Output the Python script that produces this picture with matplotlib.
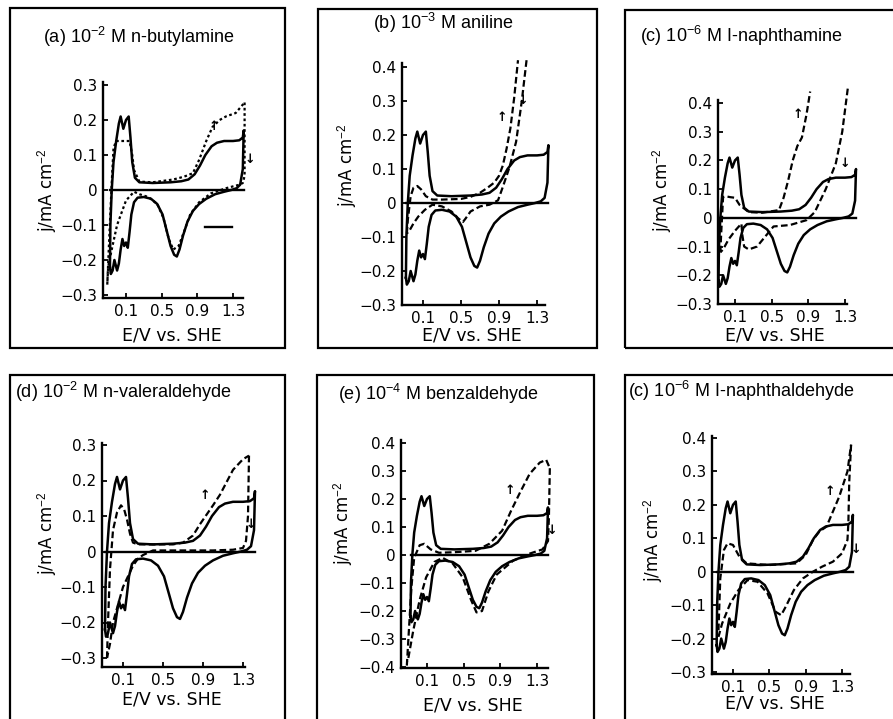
import matplotlib
matplotlib.use("Agg")
import matplotlib.pyplot as plt
from matplotlib.patches import Rectangle

plt.rcParams['font.family'] = ['Liberation Sans', 'DejaVu Sans']
plt.rcParams['mathtext.fontset'] = 'custom'
plt.rcParams['mathtext.rm'] = 'Liberation Sans'
plt.rcParams['mathtext.it'] = 'Liberation Sans:italic'
plt.rcParams['mathtext.bf'] = 'Liberation Sans:bold'

W, H = 893, 719

# blank Pt electrode in acid (solid line), one full sweep
blank_E = [-0.08, -0.075, -0.06, -0.04, -0.01, 0.02, 0.04, 0.07, 0.1, 0.13, 0.15, 0.17, 0.2, 0.25,
           0.4, 0.6, 0.72, 0.8, 0.87, 0.93, 0.99, 1.06, 1.12, 1.2, 1.3, 1.37, 1.41, 1.42,
           1.41, 1.38, 1.34, 1.28, 1.2, 1.1, 1.0, 0.92, 0.85, 0.79, 0.74, 0.7, 0.67, 0.64,
           0.6, 0.56, 0.51, 0.45, 0.38, 0.3, 0.23, 0.19, 0.16, 0.14, 0.12, 0.1, 0.08, 0.06,
           0.04, 0.02, 0.0, -0.03, -0.05, -0.07, -0.08]
blank_j = [-0.22, -0.1, 0.0, 0.08, 0.14, 0.19, 0.21, 0.175, 0.2, 0.21, 0.15, 0.08, 0.035, 0.022,
           0.02, 0.022, 0.025, 0.03, 0.045, 0.07, 0.1, 0.125, 0.135, 0.14, 0.14, 0.142, 0.15, 0.17,
           0.06, 0.015, 0.005, 0.0, -0.005, -0.012, -0.025, -0.04, -0.06, -0.09, -0.13, -0.17, -0.19, -0.185,
           -0.16, -0.12, -0.07, -0.04, -0.025, -0.02, -0.022, -0.035, -0.07, -0.12, -0.165, -0.15, -0.16, -0.14,
           -0.17, -0.21, -0.23, -0.2, -0.23, -0.24, -0.22]

zero_E = [-0.08, 1.42]
zero_j = [0.0, 0.0]

# (a) n-butylamine
a_up_E = [-0.11, -0.09, -0.06, -0.04, -0.01, 0.05, 0.14, 0.17, 0.19, 0.25, 0.4, 0.63, 0.75, 0.85,
          0.92, 1.0, 1.07, 1.15, 1.22, 1.33, 1.43]
a_up_j = [-0.27, -0.15, 0.02, 0.12, 0.14, 0.14, 0.14, 0.1, 0.057, 0.024, 0.022, 0.03, 0.038, 0.048,
          0.086, 0.14, 0.18, 0.2, 0.21, 0.22, 0.25]
a_dn_E = [1.43, 1.43, 1.41, 1.37, 1.22, 1.05, 0.92, 0.82, 0.75, 0.69, 0.63, 0.58, 0.52, 0.45, 0.35,
          0.25, 0.19, 0.1, 0.0, -0.06, -0.1, -0.11]
a_dn_j = [0.25, 0.04, 0.02, 0.015, 0.005, -0.01, -0.035, -0.07, -0.12, -0.16, -0.17, -0.14, -0.08,
          -0.04, -0.02, -0.012, -0.005, -0.03, -0.1, -0.17, -0.22, -0.27]
a_mark_E = [0.99, 1.29]
a_mark_j = [-0.105, -0.105]

# (b) aniline
b_up_E = [-0.07, -0.06, -0.03, 0.0, 0.04, 0.08, 0.13, 0.2, 0.3, 0.5, 0.6, 0.7, 0.78, 0.85, 0.9,
          0.94, 0.98, 1.02, 1.06, 1.1]
b_up_j = [-0.09, -0.05, 0.02, 0.045, 0.05, 0.04, 0.02, 0.01, 0.01, 0.012, 0.018, 0.03, 0.045, 0.06,
          0.08, 0.11, 0.16, 0.22, 0.31, 0.42]
b_dn_E = [1.19, 1.14, 1.08, 1.01, 0.94, 0.89, 0.8, 0.7, 0.6, 0.55, 0.52, 0.47, 0.4, 0.3, 0.2, 0.12,
          0.05, 0.0, -0.04, -0.07]
b_dn_j = [0.42, 0.3, 0.18, 0.105, 0.047, 0.008, -0.005, -0.01, -0.025, -0.045, -0.056, -0.045,
          -0.025, -0.01, -0.005, -0.02, -0.04, -0.06, -0.08, -0.09]

# (c) 1-naphthamine
c_up_E = [-0.06, -0.05, -0.03, 0.0, 0.05, 0.1, 0.15, 0.25, 0.4, 0.58, 0.63, 0.68, 0.73, 0.78, 0.83,
          0.88, 0.92]
c_up_j = [-0.12, -0.05, 0.073, 0.075, 0.072, 0.07, 0.045, 0.02, 0.018, 0.027, 0.07, 0.13, 0.2, 0.25,
          0.28, 0.36, 0.44]
c_dn_E = [1.33, 1.27, 1.2, 1.09, 0.97, 0.88, 0.7, 0.52, 0.43, 0.34, 0.25, 0.2, 0.18, 0.17, 0.1,
          0.03, -0.03, -0.06]
c_dn_j = [0.45, 0.3, 0.19, 0.1, 0.02, -0.008, -0.025, -0.03, -0.065, -0.1, -0.11, -0.1, -0.06,
          -0.02, -0.045, -0.075, -0.11, -0.12]

# (d) n-valeraldehyde
d_up_E = [-0.06, -0.05, -0.03, 0.0, 0.04, 0.08, 0.11, 0.14, 0.17, 0.2, 0.25, 0.4, 0.6, 0.7, 0.8,
          0.87, 1.0, 1.07, 1.2, 1.3, 1.36]
d_up_j = [-0.3, -0.2, -0.05, 0.06, 0.11, 0.13, 0.12, 0.09, 0.05, 0.025, 0.02, 0.02, 0.02, 0.025,
          0.045, 0.077, 0.13, 0.16, 0.23, 0.26, 0.27]
d_dn_E = [1.36, 1.35, 1.33, 1.3, 1.2, 1.0, 0.8, 0.6, 0.4, 0.3, 0.25, 0.2, 0.15, 0.1, 0.05, 0.0,
          -0.03, -0.06]
d_dn_j = [0.27, 0.1, 0.03, 0.01, 0.005, 0.003, 0.003, 0.003, 0.003, -0.01, -0.02, -0.04, -0.07,
          -0.1, -0.15, -0.2, -0.26, -0.3]

# (e) benzaldehyde
e_up_E = [-0.12, -0.07, -0.04, 0.02, 0.07, 0.14, 0.23, 0.4, 0.63, 0.78, 0.92, 1.02, 1.11, 1.22,
          1.33, 1.4, 1.44]
e_up_j = [-0.395, -0.115, -0.01, 0.035, 0.04, 0.02, 0.008, 0.01, 0.015, 0.04, 0.087, 0.16, 0.22,
          0.29, 0.33, 0.34, 0.31]
e_dn_E = [1.44, 1.43, 1.42, 1.36, 1.22, 1.04, 0.86, 0.77, 0.7, 0.64, 0.58, 0.49, 0.38, 0.27, 0.18,
          0.09, 0.02, -0.05, -0.11]
e_dn_j = [0.31, 0.135, 0.05, 0.02, 0.005, -0.02, -0.07, -0.13, -0.2, -0.205, -0.16, -0.08, -0.03,
          -0.01, -0.025, -0.08, -0.16, -0.27, -0.38]

# (f) 1-naphthaldehyde
f_up_E = [-0.06, -0.04, 0.0, 0.04, 0.1, 0.17, 0.25, 0.5, 0.8, 0.9, 0.98, 1.05, 1.13, 1.2, 1.27,
          1.36, 1.4]
f_up_j = [-0.175, -0.02, 0.065, 0.085, 0.08, 0.045, 0.025, 0.02, 0.025, 0.05, 0.095, 0.12, 0.135,
          0.18, 0.225, 0.3, 0.38]
f_dn_E = [1.4, 1.38, 1.37, 1.36, 1.3, 1.2, 1.08, 0.98, 0.87, 0.77, 0.68, 0.63, 0.57, 0.48, 0.37,
          0.26, 0.16, 0.07, -0.02, -0.06]
f_dn_j = [0.38, 0.27, 0.145, 0.095, 0.055, 0.03, 0.015, 0.0, -0.02, -0.055, -0.105, -0.13, -0.12,
          -0.065, -0.03, -0.025, -0.055, -0.095, -0.155, -0.195]

titles = ['(a) 10$^{-2}$ M n-butylamine', '(b) 10$^{-3}$ M aniline', '(c) 10$^{-6}$ M I-naphthamine',
          '(d) 10$^{-2}$ M n-valeraldehyde', '(e) 10$^{-4}$ M benzaldehyde', '(c) 10$^{-6}$ M I-naphthaldehyde']
x_ticks = [0.1, 0.5, 0.9, 1.3]
x_ticklabels = ['0.1', '0.5', '0.9', '1.3']
y_ticks = [[0.3, 0.2, 0.1, 0, -0.1, -0.2, -0.3],
           [0.4, 0.3, 0.2, 0.1, 0, -0.1, -0.2, -0.3],
           [0.4, 0.3, 0.2, 0.1, 0, -0.1, -0.2, -0.3],
           [0.3, 0.2, 0.1, 0, -0.1, -0.2, -0.3],
           [0.4, 0.3, 0.2, 0.1, 0, -0.1, -0.2, -0.3, -0.4],
           [0.4, 0.3, 0.2, 0.1, 0, -0.1, -0.2, -0.3]]
ups = [(a_up_E, a_up_j), (b_up_E, b_up_j), (c_up_E, c_up_j), (d_up_E, d_up_j), (e_up_E, e_up_j), (f_up_E, f_up_j)]
dns = [(a_dn_E, a_dn_j), (b_dn_E, b_dn_j), (c_dn_E, c_dn_j), (d_dn_E, d_dn_j), (e_dn_E, e_dn_j), (f_dn_E, f_dn_j)]
# arrow labels (up arrow, down arrow) positions in data units
arrows = [((1.08, 0.18), (1.49, 0.086)), ((0.93, 0.25), (1.15, 0.30)), ((0.79, 0.36), (1.30, 0.19)),
          ((0.92, 0.157), (1.38, 0.077)), ((1.0, 0.23), (1.46, 0.087)), ((1.17, 0.24), (1.45, 0.065))]

# layout in pixels: axes left/right/top/bottom, px of x=0.1 and 1.3, px of top and bottom y tick
geom = [
    dict(l=103, r=243, t=82, b=298, x01=126, x13=233, yt=85, yb=295),
    dict(l=402, r=545, t=63, b=305, x01=423, x13=537, yt=67, yb=305),
    dict(l=718, r=847, t=100, b=304, x01=735, x13=845, yt=103, yb=304),
    dict(l=102, r=245, t=443, b=667, x01=123, x13=243, yt=445, yb=658),
    dict(l=401, r=548, t=440, b=668, x01=427, x13=537, yt=443, yb=667),
    dict(l=712, r=850, t=436, b=674, x01=733, x13=842, yt=438, yb=672),
]
boxes = [(10, 8, 285, 348), (318, 9, 597, 348), (625, 10, 897, 348),
         (10, 375, 285, 723), (317, 375, 594, 723), (625, 375, 897, 723)]
# title baseline positions
title_pos = [(43, 43), (373, 29), (640, 42), (15, 398), (338, 400), (628, 397)]
ylab_pos = [(47, 190), (347, 165), (662, 190), (47, 533), (343, 523), (653, 540)]
xlab_pos = [(172, 335), (472, 335), (775, 335), (172, 699), (473, 706), (775, 704)]
dash_styles = [(0, (1.2, 1.2)), (0, (3, 1.5)), (0, (3, 1.5)), (0, (3, 1.5)), (0, (3, 1.5)), (0, (3, 1.5))]

fig = plt.figure(figsize=(W / 100, H / 100), dpi=100)

for i in range(6):
    g = geom[i]
    ax = fig.add_axes([g['l'] / W, 1 - g['b'] / H, (g['r'] - g['l']) / W, (g['b'] - g['t']) / H])
    sx = (g['x13'] - g['x01']) / 1.2
    ax.set_xlim(0.1 + (g['l'] - g['x01']) / sx, 0.1 + (g['r'] - g['x01']) / sx)
    yt_v, yb_v = y_ticks[i][0], y_ticks[i][-1]
    sy = (g['yb'] - g['yt']) / (yt_v - yb_v)
    ax.set_ylim(yb_v - (g['b'] - g['yb']) / sy, yt_v + (g['yt'] - g['t']) / sy)

    ax.plot(blank_E, blank_j, color='black', lw=1.8, clip_on=False, solid_joinstyle='round')
    ax.plot(zero_E, zero_j, color='black', lw=1.7, clip_on=False)
    ax.plot(ups[i][0], ups[i][1], color='black', lw=1.6, ls=dash_styles[i], clip_on=False)
    ax.plot(dns[i][0], dns[i][1], color='black', lw=1.6, ls=dash_styles[i], clip_on=False)
    if i == 0:
        ax.plot(a_mark_E, a_mark_j, color='black', lw=1.7)
    (ux, uy), (dx, dy) = arrows[i]
    ax.text(ux, uy, '\u2191', fontsize=9, fontweight='bold', family='DejaVu Sans', ha='center', va='center')
    ax.text(dx, dy, '\u2193', fontsize=9, fontweight='bold', family='DejaVu Sans', ha='center', va='center')

    for s in ['top', 'right']:
        ax.spines[s].set_visible(False)
    for s in ['left', 'bottom']:
        ax.spines[s].set_linewidth(1.7)
    ax.set_xticks(x_ticks)
    ax.set_xticklabels(x_ticklabels, family='DejaVu Sans')
    ax.set_yticks(y_ticks[i])
    ax.set_yticklabels(['0' if v == 0 else ('%.1f' % v).replace('-', '\u2212') for v in y_ticks[i]],
                       family='DejaVu Sans')
    ax.tick_params(direction='in', length=3.5, width=1.3, labelsize=11, pad=4)
    ax.patch.set_alpha(0)

    bl, bt, br, bb = boxes[i]
    fig.patches.append(Rectangle((bl / W, 1 - bb / H), (br - bl) / W, (bb - bt) / H,
                                 transform=fig.transFigure, fill=False, lw=1.6, ec='black'))
    tx, ty = title_pos[i]
    fig.text(tx / W, 1 - ty / H, titles[i], fontsize=13, ha='left', va='baseline')
    lx, ly = ylab_pos[i]
    fig.text(lx / W, 1 - ly / H, 'j/mA cm$^{-2}$', fontsize=12, family='DejaVu Sans',
             rotation=90, ha='center', va='center')
    xx, xy = xlab_pos[i]
    fig.text(xx / W, 1 - xy / H, 'E/V vs. SHE', fontsize=12.5, family='DejaVu Sans', ha='center', va='center')

fig.savefig('out.png', dpi=100)
